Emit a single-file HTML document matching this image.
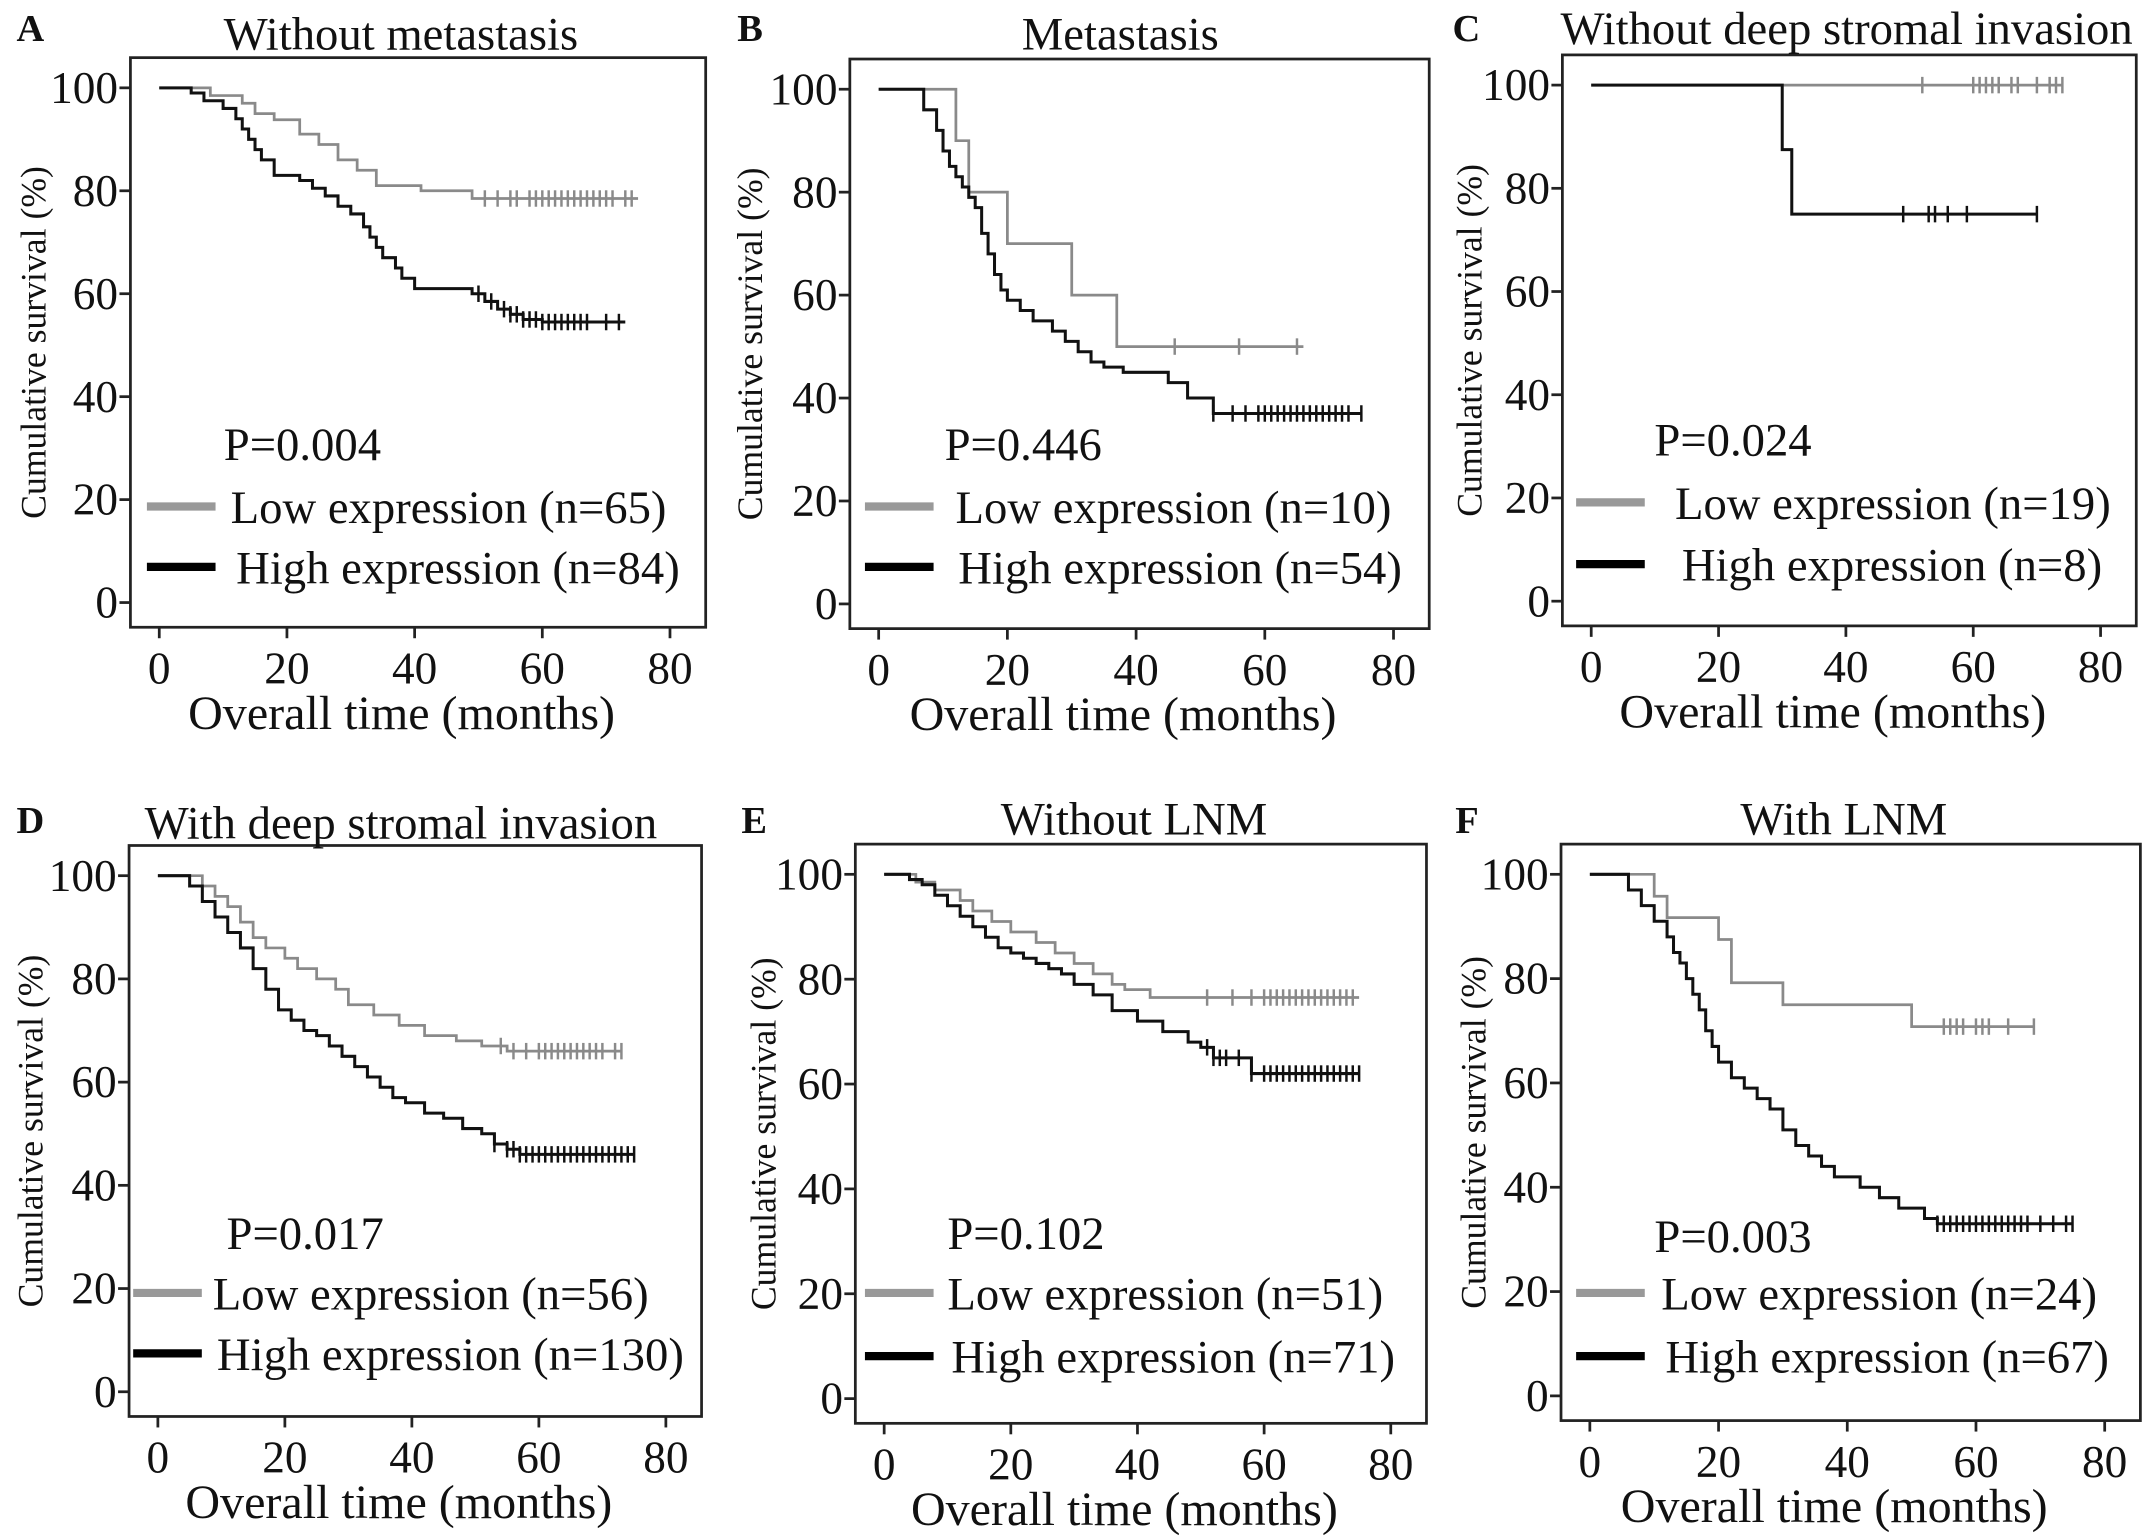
<!DOCTYPE html>
<html><head><meta charset="utf-8"><style>
html,body{margin:0;padding:0;background:#fff;}
svg{display:block;}
text{font-family:"Liberation Serif",serif;fill:#111;}
</style></head><body>
<svg id="fig" width="2150" height="1540" viewBox="0 0 1566 1122" preserveAspectRatio="none" xmlns="http://www.w3.org/2000/svg"></svg>
<script>
// Panel data: step change-times and survival values, plus censor times
const titles = ["Without metastasis","Metastasis","Without deep stromal invasion","With deep stromal invasion","Without LNM","With LNM"];
const letters = ["A","B","C","D","E","F"];
const pValues = ["P=0.004","P=0.446","P=0.024","P=0.017","P=0.102","P=0.003"];
const lowN = [65,10,19,56,51,24];
const highN = [84,54,8,130,71,67];
const xTicks = [0,20,40,60,80];
const yTicks = [0,20,40,60,80,100];

const lowTimes = [
 [0,8,13,15,18,22,25,28,31,34,41,49],
 [0,12,14,20,30,37],
 [0],
 [0,7,9,11,13,15,17,20,22,25,28,30,34,38,42,47,51,55],
 [0,5,8,12,14,17,20,24,27,30,33,36,38,42],
 [0,10,12,20,22,30,50]];
const lowVals = [
 [100,98.5,97,95,93.8,91,89,86,84,81,80,78.5],
 [100,90,80,70,60,50],
 [100],
 [100,98,96,94,91,88,86,84,82,80,78,75,73,71,69,68,67,66],
 [100,98.5,97,95,93,91,89,87,85,83,81,79,78,76.5],
 [100,95.8,91.7,87.5,79.2,75,70.8]];
const lowEnd = [75,66,74,73,75,69];
const lowCens = [
 [51,53,55,56,58,59,60,61,62,63,64,65,66,67,68,69,70,71,73,74],
 [46,56,65],
 [52,60,61,62,63,64,66,67,70,72,73,74],
 [54,56,58,60,61,62,63,64,65,66,67,68,69,70,72,73],
 [51,55,58,60,61,62,63,64,65,66,67,68,69,70,71,72,73,74],
 [55,56,57,58,60,61,62,65,69]];

const highTimes = [
 [0,5,7,10,12,13,14,15,16,18,22,24,26,28,30,32,33,34,35,37,38,40,49,51,53,55,57,60],
 [0,7,9,10,11,12,13,14,15,16,17,18,19,20,22,24,27,29,31,33,35,38,45,48,52],
 [0,30,31.5],
 [0,5,7,9,11,13,15,17,19,21,23,25,27,29,31,33,35,37,39,42,45,48,51,53,55,57],
 [0,4,6,8,10,12,14,16,18,20,22,24,26,28,30,33,36,40,44,48,50,52,58],
 [0,6,8,10,12,13,14,15,16,17,18,19,20,22,24,26,28,30,32,34,36,38,42,45,48,52,54]];
const highVals = [
 [100,99,97.5,96,94,92,90,88,86,83,82,80.5,79,77,75.5,73,71,69,67,65,63,61,60,58.5,57,56,55,54.5],
 [100,96,92,88,85,83,81,79,77,72,68,64,61,59,57,55,53,51,49,47,46,45,43,40,37],
 [100,87.5,75],
 [100,98,95,92,89,86,82,78,74,72,70,69,67,65,63,61,59,57,56,54,53,51,50,48,47,46],
 [100,99,98,96,94,92,90,88,86,85,84,83,82,81,79,77,74,72,70,68,67,65,62],
 [100,97,94,91,88,85,83,80,77,74,70,67,64,61,59,57,55,51,48,46,44,42,40,38,36,34,33]];
const highEnd = [73,75,70,75,75,75];
const highCens = [
 [50,52,54,55,56,57,58,59,60,61,62,63,64,65,66,67,70,72],
 [52,55,57,59,60,61,62,63,64,65,66,67,68,69,70,71,72,73,75],
 [49,53,54,56,59,70],
 [53,55,56,57,58,59,60,61,62,63,64,65,66,67,68,69,70,71,72,73,74,75],
 [51,52,53,54,56,58,60,61,62,63,64,65,66,67,68,69,70,71,72,73,74,75],
 [54,55,56,57,58,59,60,61,62,63,64,65,66,67,68,70,72,74,75]];

// Layout (display coordinates)
const L = [
 {x0:116,x80:488,y100:64,y0:439,tx:292,ty:36,lx:12,ly:30,ax:24,p:[163,335],ll:107,lt:168,ht:172,ly1:369,ly2:413},
 {x0:640,x80:1015,y100:65,y0:440,tx:816,ty:36,lx:537,ly:30,ax:546,p:[688,335],ll:630,lt:696,ht:698,ly1:369,ly2:413},
 {x0:1159,x80:1530,y100:62,y0:438,tx:1345,ty:32,lx:1058,ly:30,ax:1070,p:[1205,332],ll:1148,lt:1220,ht:1225,ly1:366,ly2:411},
 {x0:115,x80:485,y100:638,y0:1014,tx:292,ty:611,lx:12,ly:607,ax:22,p:[165,910],ll:97,lt:155,ht:158,ly1:942,ly2:986},
 {x0:644,x80:1013,y100:637,y0:1019,tx:826,ty:608,lx:540,ly:607,ax:556,p:[690,910],ll:630,lt:690,ht:693,ly1:942,ly2:988},
 {x0:1158,x80:1533,y100:637,y0:1017,tx:1343,ty:608,lx:1060,ly:607,ax:1073,p:[1205,912],ll:1148,lt:1210,ht:1213,ly1:942,ly2:988}];

const NS="http://www.w3.org/2000/svg";
const svg=document.getElementById('fig');
function mk(tag,attrs,parent,txt){const e=document.createElementNS(NS,tag);for(const k in attrs)e.setAttribute(k,attrs[k]);if(txt!==undefined)e.textContent=txt;(parent||svg).appendChild(e);return e;}

for(let i=0;i<6;i++){
 const c=L[i];
 const g=mk('g',{});
 
 
 const X=t=>c.x0+(c.x80-c.x0)*t/80;
 const Y=v=>c.y0+(c.y100-c.y0)*v/100;
 const bl=c.x0-21,br=c.x80+26,bt=c.y100-22,bb=c.y0+18;
 const frame=mk('rect',{x:bl,y:bt,width:br-bl,height:bb-bt,fill:'none',stroke:'#222','stroke-width':2},g);
 
 
 const lt=mk('text',{x:c.lx,y:c.ly,'font-size':28,'font-weight':'bold'},g,letters[i]);
 
 
 const tt=mk('text',{x:c.tx,y:c.ty,'font-size':34,'text-anchor':'middle'},g,titles[i]);
 
 
 yTicks.forEach(v=>{
  const tk=mk('line',{x1:bl-8,x2:bl,y1:Y(v),y2:Y(v),stroke:'#222','stroke-width':2},g);
  
  
  const tl=mk('text',{x:bl-9,y:Y(v)+11,'font-size':33,'text-anchor':'end'},g,String(v));
  
  
 });
 xTicks.forEach(v=>{
  const tk=mk('line',{x1:X(v),x2:X(v),y1:bb,y2:bb+8,stroke:'#222','stroke-width':2},g);
  
  
  const tl=mk('text',{x:X(v),y:bb+41,'font-size':33,'text-anchor':'middle'},g,String(v));
  
  
 });
 const xt=mk('text',{x:(bl+br)/2-12,y:bb+74,'font-size':35,'text-anchor':'middle'},g,'Overall time (months)');
 
 
 const ym=(bt+bb)/2;
 const yt=mk('text',{x:c.ax,y:ym,'font-size':26,'text-anchor':'middle',transform:`rotate(-90 ${c.ax} ${ym}) translate(0 9)`},g,'Cumulative survival (%)');
 
 

 function curve(times,vals,end,cens,color,w,name){
  let d=`M${X(times[0])},${Y(vals[0])}`;
  for(let k=1;k<times.length;k++){d+=` H${X(times[k])} V${Y(vals[k])}`;}
  d+=` H${X(end)}`;
  const p=mk('path',{d:d,fill:'none',stroke:color,'stroke-width':w},g);
  
  
  cens.forEach(t=>{
   let v=vals[0];
   for(let k=0;k<times.length;k++){if(times[k]<=t)v=vals[k];}
   const m=mk('line',{x1:X(t),x2:X(t),y1:Y(v)-6,y2:Y(v)+6,stroke:color,'stroke-width':1.8},g);
   
   
  });
 }
 curve(lowTimes[i],lowVals[i],lowEnd[i],lowCens[i],'#8a8a8a',2,'low-expression');
 curve(highTimes[i],highVals[i],highEnd[i],highCens[i],'#111',2.2,'high-expression');

 const pt=mk('text',{x:c.p[0],y:c.p[1],'font-size':34},g,pValues[i]);
 
 
 const l1=mk('line',{x1:c.ll,x2:c.ll+50,y1:c.ly1,y2:c.ly1,stroke:'#999','stroke-width':6},g);
 
 
 const t1=mk('text',{x:c.lt,y:c.ly1+12,'font-size':34},g,`Low expression (n=${lowN[i]})`);
 
 
 const l2=mk('line',{x1:c.ll,x2:c.ll+50,y1:c.ly2,y2:c.ly2,stroke:'#000','stroke-width':6},g);
 
 
 const t2=mk('text',{x:c.ht,y:c.ly2+12,'font-size':34},g,`High expression (n=${highN[i]})`);
 
 
}
</script>
</body></html>
